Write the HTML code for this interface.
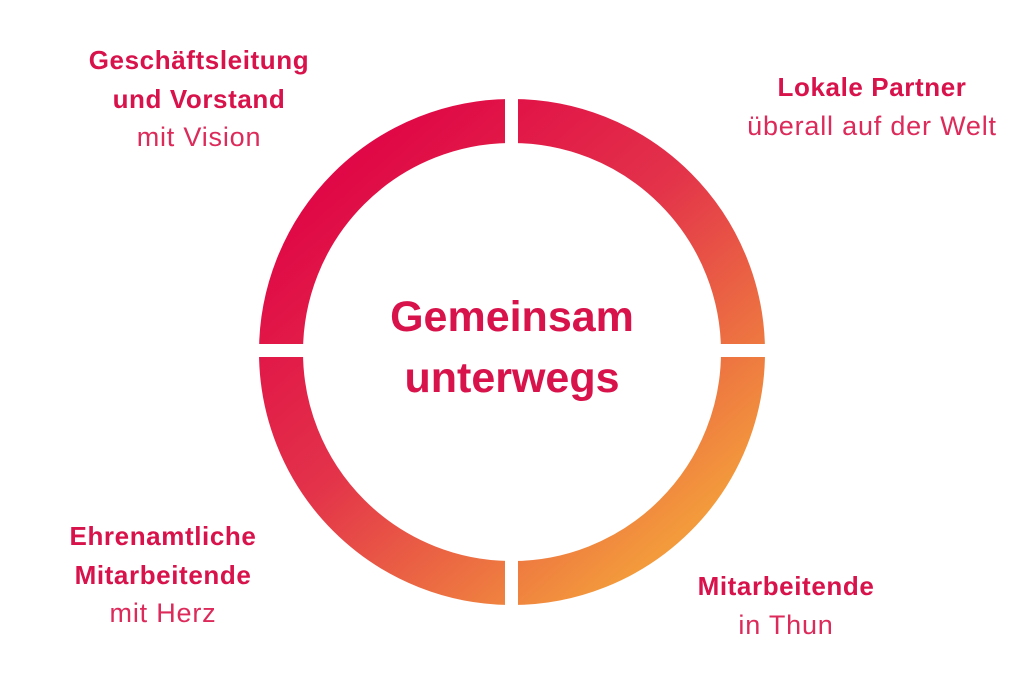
<!DOCTYPE html>
<html><head><meta charset="utf-8"><style>
body{margin:0;width:1024px;height:683px;background:#fff;overflow:hidden}
svg text{font-family:"Liberation Sans",sans-serif;fill:#d8124b}
.b{font-weight:bold;font-size:26px;letter-spacing:0.6px}
.n{font-size:27px;fill:#dc2a5a;letter-spacing:0.8px}
.c{font-weight:bold;font-size:43px}
</style></head><body>
<svg width="1024" height="683" viewBox="0 0 1024 683">
<defs><linearGradient id="g" x1="0.15" y1="0.1" x2="0.85" y2="0.9">
<stop offset="0" stop-color="#e00846"/><stop offset="0.45" stop-color="#e3334a"/><stop offset="1" stop-color="#f39a3c"/></linearGradient></defs>
<circle cx="512" cy="352" r="231" fill="none" stroke="url(#g)" stroke-width="44"/>
<rect x="505" y="90" width="13" height="530" fill="#fff"/>
<rect x="250" y="344" width="525" height="13" fill="#fff"/>
<g text-anchor="middle">
<text class="c" x="512" y="331">Gemeinsam</text>
<text class="c" x="512" y="392">unterwegs</text>
<text class="b" x="199" y="69">Geschäftsleitung</text>
<text class="b" x="199" y="108">und Vorstand</text>
<text class="n" x="199" y="146">mit Vision</text>
<text class="b" x="872" y="96">Lokale Partner</text>
<text class="n" x="872" y="135">überall auf der Welt</text>
<text class="b" x="163" y="545">Ehrenamtliche</text>
<text class="b" x="163" y="584">Mitarbeitende</text>
<text class="n" x="163" y="622">mit Herz</text>
<text class="b" x="786" y="595">Mitarbeitende</text>
<text class="n" x="786" y="634">in Thun</text>
</g>
</svg>
</body></html>
